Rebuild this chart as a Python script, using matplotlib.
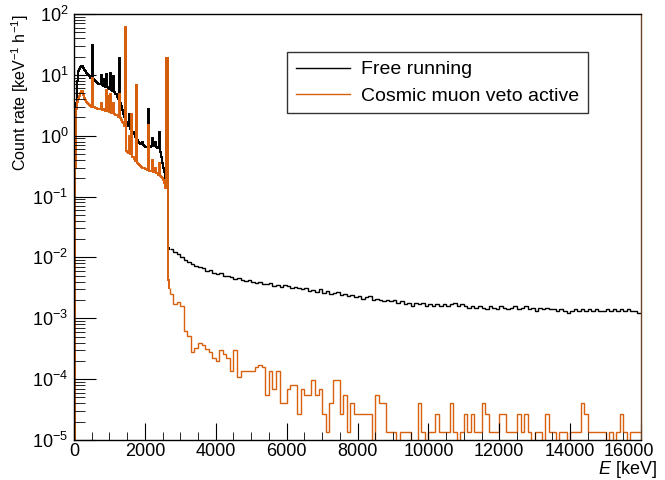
import numpy as np
import matplotlib
matplotlib.use('Agg')
import matplotlib.pyplot as plt
import matplotlib.transforms as mtransforms
from matplotlib.ticker import LogLocator, MultipleLocator, LogFormatterMathtext, NullFormatter

plt.rcParams['font.family'] = 'Liberation Sans'
plt.rcParams['mathtext.fontset'] = 'custom'
plt.rcParams['mathtext.rm'] = 'Liberation Sans'
plt.rcParams['mathtext.it'] = 'Liberation Sans:italic'

# binning: 30 keV bins up to 2700 keV, 100 keV bins above
fine_width = 30
coarse_width = 100
fine_max = 2700
e_max = 16000

# count rate per bin [1/(keV h)], 0-2700 keV (30 keV bins)
free_fine = [
    0, 0.6, 3.5, 8.0, 11.5, 12.5, 13.5, 14.0, 13.0, 12.2,
    11.5, 10.8, 10.3, 9.8, 9.4, 9.0, 8.8, 31.0, 8.5, 8.2,
    7.9, 7.6, 7.4, 7.2, 7.0, 9.8, 6.8, 6.6, 8.5, 6.4,
    10.3, 6.2, 6.0, 5.8, 10.8, 5.6, 5.4, 9.5, 5.2, 4.9,
    4.4, 4.0, 18.6, 3.5, 3.1, 2.6, 2.3, 2.0, 60.0, 1.7,
    1.55, 1.45, 2.3, 1.3, 2.0, 1.15, 1.05, 0.95, 6.8, 0.85,
    0.8, 0.75, 0.74, 0.72, 0.8, 0.7, 0.68, 0.66, 0.65, 0.66,
    2.8, 0.65, 0.68, 0.9, 0.7, 0.68, 0.8, 0.66, 0.64, 0.62,
    1.15, 0.55, 0.44, 0.36, 0.30, 0.25, 0.20, 18.6, 0.0145, 0.014,
]
veto_fine = [
    0, 0.3, 2.8, 3.6, 4.0, 4.5, 5.0, 5.5, 4.6, 4.2,
    3.9, 3.6, 3.4, 3.3, 3.2, 3.1, 3.0, 9.0, 3.0, 2.95,
    2.9, 2.85, 2.8, 2.75, 2.7, 3.4, 2.65, 2.6, 2.7, 2.55,
    5.6, 2.5, 4.5, 2.45, 4.9, 2.4, 2.35, 3.5, 2.3, 2.2,
    2.15, 2.05, 4.9, 1.95, 1.8, 1.7, 1.6, 1.45, 62.0, 0.57,
    0.55, 0.52, 1.0, 0.5, 2.3, 0.45, 0.42, 0.38, 6.8, 0.36,
    0.34, 0.33, 0.32, 0.31, 0.30, 0.30, 0.29, 0.28, 0.28, 0.27,
    1.5, 0.26, 0.26, 0.4, 0.25, 0.25, 0.3, 0.24, 0.24, 0.23,
    0.35, 0.22, 0.21, 0.20, 0.19, 0.17, 0.14, 18.6, 0.0042, 0.0032,
]

# 2700-16000 keV (100 keV bins)
free_coarse = [
    1.40e-2, 1.25e-2, 1.15e-2,
    1.0e-2, 9.2e-3, 8.5e-3, 7.8e-3, 7.3e-3, 6.9e-3, 6.6e-3, 6.0e-3, 6.2e-3, 5.6e-3,
    5.4e-3, 5.6e-3, 5.0e-3, 4.9e-3, 4.7e-3, 4.5e-3, 4.6e-3, 4.3e-3, 4.1e-3, 4.2e-3,
    4.0e-3, 3.8e-3, 4.0e-3, 3.7e-3, 3.6e-3, 3.8e-3, 3.4e-3, 3.5e-3, 3.3e-3, 3.5e-3,
    3.4e-3, 3.1e-3, 3.3e-3, 3.2e-3, 3.0e-3, 3.1e-3, 2.8e-3, 2.9e-3, 2.7e-3, 3.0e-3,
    2.6e-3, 2.8e-3, 2.5e-3, 2.6e-3, 2.7e-3, 2.4e-3, 2.5e-3, 2.3e-3, 2.4e-3, 2.2e-3,
    2.3e-3, 2.1e-3, 2.2e-3, 2.3e-3, 2.0e-3, 2.1e-3, 2.0e-3, 1.9e-3, 2.0e-3, 1.9e-3,
    2.0e-3, 1.8e-3, 1.9e-3, 1.7e-3, 1.8e-3, 1.6e-3, 1.8e-3, 1.7e-3, 1.8e-3, 1.6e-3,
    1.7e-3, 1.6e-3, 1.7e-3, 1.6e-3, 1.7e-3, 1.6e-3, 1.7e-3, 1.8e-3, 1.6e-3, 1.7e-3,
    1.6e-3, 1.5e-3, 1.6e-3, 1.5e-3, 1.6e-3, 1.5e-3, 1.4e-3, 1.6e-3, 1.5e-3, 1.4e-3,
    1.6e-3, 1.5e-3, 1.4e-3, 1.5e-3, 1.6e-3, 1.4e-3, 1.5e-3, 1.6e-3, 1.4e-3, 1.5e-3,
    1.3e-3, 1.5e-3, 1.4e-3, 1.5e-3, 1.4e-3, 1.4e-3, 1.3e-3, 1.4e-3, 1.3e-3, 1.2e-3,
    1.3e-3, 1.4e-3, 1.3e-3, 1.4e-3, 1.3e-3, 1.4e-3, 1.3e-3, 1.4e-3, 1.3e-3, 1.3e-3,
    1.4e-3, 1.3e-3, 1.4e-3, 1.3e-3, 1.4e-3, 1.3e-3, 1.4e-3, 1.3e-3, 1.3e-3, 1.2e-3,
]
veto_coarse = [
    # 2700 - 3600
    2.5e-3, 1.71e-3, 1.82e-3, 1.61e-3, 6.2e-4, 5.15e-4, 2.84e-4, 3.31e-4, 3.90e-4, 3.66e-4,
    # 3700 - 4600
    3.10e-4, 2.84e-4, 2.21e-4, 2.0e-4, 2.99e-4, 2.57e-4, 2.21e-4, 1.36e-4, 2.99e-4, 1.09e-4,
    # 4700 - 5600
    1.36e-4, 1.36e-4, 1.36e-4, 1.36e-4, 1.58e-4, 1.71e-4, 1.58e-4, 5.4e-5, 1.36e-4, 6.8e-5,
    # 5700 - 6600
    1.36e-4, 4.0e-5, 4.0e-5, 6.8e-5, 8.0e-5, 8.0e-5, 2.7e-5, 6.8e-5, 5.4e-5, 5.4e-5,
    # 6700 - 7600
    9.6e-5, 5.4e-5, 6.8e-5, 2.7e-5, 1.36e-5, 4.1e-5, 9.6e-5, 9.6e-5, 2.7e-5, 5.4e-5,
    # 7700 - 8600
    1.36e-5, 4.1e-5, 2.7e-5, 2.7e-5, 2.7e-5, 2.7e-5, 2.7e-5, 0, 5.4e-5, 4.1e-5,
    # 8700 - 9600
    4.1e-5, 1.36e-5, 1.36e-5, 1.36e-5, 0, 1.36e-5, 1.36e-5, 1.36e-5, 0, 0,
    # 9700 - 10600
    4.1e-5, 1.36e-5, 0, 1.36e-5, 1.36e-5, 2.7e-5, 1.36e-5, 1.36e-5, 1.36e-5, 4.1e-5,
    # 10700 - 11600
    1.36e-5, 0, 1.36e-5, 2.7e-5, 1.36e-5, 2.7e-5, 1.36e-5, 1.36e-5, 4.1e-5, 2.7e-5,
    # 11700 - 12600
    1.36e-5, 1.36e-5, 1.36e-5, 2.7e-5, 2.7e-5, 1.36e-5, 1.36e-5, 1.36e-5, 2.7e-5, 1.36e-5,
    # 12700 - 13600
    2.7e-5, 1.36e-5, 0, 1.36e-5, 1.36e-5, 0, 2.7e-5, 1.36e-5, 1.36e-5, 0,
    # 13700 - 14600
    1.36e-5, 1.36e-5, 0, 1.36e-5, 1.36e-5, 1.36e-5, 4.1e-5, 2.7e-5, 1.36e-5, 1.36e-5,
    # 14700 - 15600
    1.36e-5, 1.36e-5, 1.36e-5, 0, 1.36e-5, 0, 1.36e-5, 2.7e-5, 1.36e-5, 0,
    # 15700 - 15900
    1.36e-5, 1.36e-5, 1.36e-5,
]

labels = ['Free running', 'Cosmic muon veto active']
colors = ['black', '#d9600c']

fine_edges = np.arange(0, fine_max + 1, fine_width)
coarse_edges = np.arange(fine_max, e_max + 1, coarse_width)

fig = plt.figure(figsize=(6.65, 4.8), dpi=100)
ax = fig.add_axes([74 / 665, 1 - 440 / 480, 567 / 665, 426 / 480])
ax.set_yscale('log', nonpositive='clip')

# fine part drawn a bit heavier, like the dense low-energy spectrum
for fine, coarse, c, lab in [(free_fine, free_coarse, colors[0], labels[0]),
                             (veto_fine, veto_coarse, colors[1], labels[1])]:
    ax.stairs(fine, fine_edges, color=c, lw=1.4, baseline=None)
    ax.vlines(fine_max, coarse[0], fine[-1], color=c, lw=1.0)
    ax.stairs(coarse, coarse_edges, color=c, lw=1.0, baseline=None, label=lab)

ax.set_xlim(0, e_max)
ax.set_ylim(1e-5, 1e2)

ax.xaxis.set_major_locator(MultipleLocator(2000))
ax.xaxis.set_minor_locator(MultipleLocator(500))
ax.yaxis.set_major_locator(LogLocator(base=10, numticks=20))
ax.yaxis.set_minor_locator(LogLocator(base=10, subs=np.arange(2, 10), numticks=20))
ax.yaxis.set_major_formatter(LogFormatterMathtext())
ax.yaxis.set_minor_formatter(NullFormatter())

ax.tick_params(which='both', direction='in', top=False, right=False, labelsize=13)
ax.tick_params(axis='x', which='major', length=12, pad=2)
ax.tick_params(axis='x', which='minor', length=6)
ax.tick_params(axis='y', which='major', length=16, pad=4)
ax.tick_params(axis='y', which='minor', length=8)

for sp in ax.spines.values():
    sp.set_linewidth(1.0)
ax.spines['right'].set_color('#6b4423')

# last x label sits slightly inside the frame
fig.canvas.draw()
shift = mtransforms.ScaledTranslation(-12 / 100, 0, fig.dpi_scale_trans)
for tick in ax.xaxis.get_major_ticks():
    if abs(tick.get_loc() - e_max) < 1:
        tick.label1.set_transform(tick.label1.get_transform() + shift)

fig.text(20 / 665, 1 - 14 / 480, 'Count rate [keV$^{-1}$ h$^{-1}$]', rotation=90,
         ha='center', va='top', fontsize=11.5)
fig.text(657 / 665, 1 - 469 / 480, '$E$ [keV]', ha='right', va='center', fontsize=13)

leg = ax.legend(loc='upper left', bbox_to_anchor=((287 - 74) / 567, (440 - 52) / 426),
                fontsize=14, frameon=True, fancybox=False, shadow=False,
                handlelength=2.8, handletextpad=0.55, borderpad=0.45, labelspacing=0.45,
                borderaxespad=0)
leg.get_frame().set_edgecolor('black')
leg.get_frame().set_linewidth(1.0)

fig.savefig('out.png', dpi=100)
